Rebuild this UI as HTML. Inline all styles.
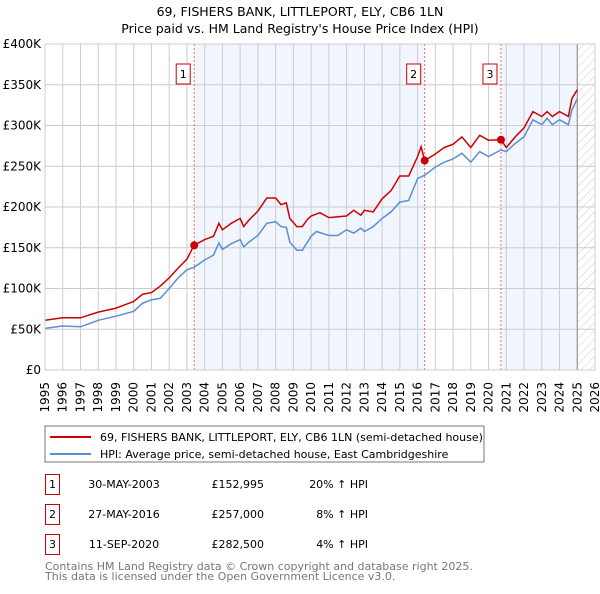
<!DOCTYPE html>
<html><head><meta charset="utf-8"><style>
body{margin:0;background:#fff;font-family:"DejaVu Sans","Liberation Sans",sans-serif;}
svg text{font-family:"DejaVu Sans","Liberation Sans",sans-serif;}
</style></head><body>
<svg id="chart" width="600" height="590" xmlns="http://www.w3.org/2000/svg">
<defs><pattern id="hatch" width="6" height="6" patternUnits="userSpaceOnUse" patternTransform="rotate(45)"><line x1="0" y1="0" x2="0" y2="6" stroke="#ccc" stroke-width="1"/></pattern></defs>
<text x="300" y="16" text-anchor="middle" font-size="12.5">69, FISHERS BANK, LITTLEPORT, ELY, CB6 1LN</text>
<text x="300" y="33" text-anchor="middle" font-size="12.5">Price paid vs. HM Land Registry's House Price Index (HPI)</text>
<g id="plot"></g>
<g>
<rect x="45" y="426" width="439" height="36" fill="#fff" stroke="#777" stroke-width="1"/>
<line x1="50" y1="437" x2="91" y2="437" stroke="#cc0000" stroke-width="2"/>
<text x="100" y="441" font-size="11">69, FISHERS BANK, LITTLEPORT, ELY, CB6 1LN (semi-detached house)</text>
<line x1="50" y1="454" x2="91" y2="454" stroke="#5b8fd4" stroke-width="2"/>
<text x="100" y="458" font-size="11">HPI: Average price, semi-detached house, East Cambridgeshire</text>
</g>
<g id="table" font-size="11"></g>
<text x="45" y="570" font-size="11" fill="#777">Contains HM Land Registry data © Crown copyright and database right 2025.</text>
<text x="45" y="580" font-size="11" fill="#777">This data is licensed under the Open Government Licence v3.0.</text>
</svg>
<script>
const yTicks=[0,50,100,150,200,250,300,350,400];
const yTickLabels=["£0","£50K","£100K","£150K","£200K","£250K","£300K","£350K","£400K"];
const xYears=[1995,1996,1997,1998,1999,2000,2001,2002,2003,2004,2005,2006,2007,2008,2009,2010,2011,2012,2013,2014,2015,2016,2017,2018,2019,2020,2021,2022,2023,2024,2025,2026];
const hpiDates=[1995,1996,1997,1998,1999,2000,2000.5,2001,2001.5,2002,2002.5,2003,2003.4,2004,2004.5,2004.8,2005,2005.5,2006,2006.2,2006.5,2007,2007.5,2008,2008.3,2008.6,2008.8,2009.2,2009.5,2010,2010.3,2011,2011.5,2012,2012.4,2012.8,2013,2013.5,2014,2014.5,2015,2015.5,2016,2016.4,2017,2017.5,2018,2018.5,2019,2019.5,2020,2020.7,2021,2021.5,2022,2022.5,2023,2023.3,2023.6,2024,2024.5,2024.7,2025.0];
const hpiValues=[51,54,53,61,66,72,82,86,88,100,113,123,126,135,141,156,148,155,160,151,157,165,180,182,176,175,157,147,147,164,170,165,165,172,168,174,170,176,186,194,206,208,235,239,249,255,259,266,255,268,262,270,268,278,286,307,301,309,301,307,301,319,333];
const priceDates=[1995,1996,1997,1998,1999,2000,2000.5,2001,2001.5,2002,2002.5,2003,2003.4,2004,2004.5,2004.8,2005,2005.5,2006,2006.2,2006.5,2007,2007.5,2008,2008.3,2008.6,2008.8,2009.2,2009.5,2009.8,2010,2010.5,2011,2012,2012.4,2012.8,2013,2013.5,2014,2014.5,2015,2015.5,2016,2016.2,2016.4,2017,2017.5,2018,2018.5,2019,2019.5,2020,2020.7,2021,2021.5,2022,2022.5,2023,2023.3,2023.6,2024,2024.5,2024.7,2025.0];
const priceValues=[61,64,64,71,76,84,93,95,103,113,125,136,153,160,164,180,172,180,186,176,184,195,211,211,203,205,186,176,176,185,189,193,187,189,196,190,196,194,210,220,238,238,262,274,257,265,273,277,286,273,288,282,282.5,273,286,297,317,311,317,311,317,311,333,344];
const saleDates=[2003.41,2016.40,2020.70];
const saleValues=[152.995,257,282.5];
const saleLabels=["1","2","3"];
const saleDateText=["30-MAY-2003","27-MAY-2016","11-SEP-2020"];
const salePriceText=["£152,995","£257,000","£282,500"];
const saleHpiText=["20% ↑ HPI","8% ↑ HPI","4% ↑ HPI"];

const NS="http://www.w3.org/2000/svg";
const X0=45,X1=595,Y0=370,Y1=44,xmin=1995,xmax=2026,ymax=400,dataEnd=2025.0;
const xs=v=>X0+(v-xmin)/(xmax-xmin)*(X1-X0);
const ys=v=>Y0-v/ymax*(Y0-Y1);
const plot=document.getElementById('plot');
function mk(tag,attrs,parent,txt){const e=document.createElementNS(NS,tag);for(const k in attrs)e.setAttribute(k,attrs[k]);if(txt!==undefined)e.textContent=txt;(parent||plot).appendChild(e);return e;}

let r;
r=mk('rect',{x:xs(saleDates[0]),y:Y1,width:xs(saleDates[1])-xs(saleDates[0]),height:Y0-Y1,fill:'#eef3fc',opacity:0.8});


r=mk('rect',{x:xs(saleDates[2]),y:Y1,width:xs(dataEnd)-xs(saleDates[2]),height:Y0-Y1,fill:'#eef3fc',opacity:0.8});


r=mk('rect',{x:xs(dataEnd),y:Y1,width:X1-xs(dataEnd),height:Y0-Y1,fill:'url(#hatch)'});



yTicks.forEach((t,i)=>{
  const l=mk('line',{x1:X0,x2:X1,y1:ys(t),y2:ys(t),stroke:'#ccc','stroke-width':1});
  
  
  const tx=mk('text',{x:X0-4,y:ys(t)+4,'text-anchor':'end','font-size':12},plot,yTickLabels[i]);
  
  
});
xYears.forEach(yr=>{
  const l=mk('line',{x1:xs(yr),x2:xs(yr),y1:Y1,y2:Y0,stroke:'#ccc','stroke-width':1});
  
  
  const tx=mk('text',{x:0,y:0,'text-anchor':'end','font-size':12,transform:`translate(${xs(yr)+4},${Y0+12}) rotate(-90)`},plot,String(yr));
  
  
});
r=mk('line',{x1:xs(dataEnd),x2:xs(dataEnd),y1:Y1,y2:Y0,stroke:'#888','stroke-width':1});



saleDates.forEach((d,i)=>{
  const l=mk('line',{x1:xs(d),x2:xs(d),y1:Y1,y2:Y0,stroke:'#e66','stroke-width':1,'stroke-dasharray':'2,2'});
  
  
  const b=mk('rect',{x:xs(d)-18,y:64,width:14,height:20,fill:'#fff',stroke:'#cc0000','stroke-width':1});
  
  
  const t=mk('text',{x:xs(d)-11,y:78,'text-anchor':'middle','font-size':11},plot,saleLabels[i]);
  
  
});

function path(dates,vals){return dates.map((d,i)=>(i?'L':'M')+xs(d).toFixed(1)+','+ys(vals[i]).toFixed(1)).join('');}
r=mk('path',{d:path(hpiDates,hpiValues),fill:'none',stroke:'#5b8fd4','stroke-width':1.5});


r=mk('path',{d:path(priceDates,priceValues),fill:'none',stroke:'#cc0000','stroke-width':1.5});


saleDates.forEach((d,i)=>{
  const c=mk('circle',{cx:xs(d),cy:ys(saleValues[i]),r:4,fill:'#cc0000'});
  
  
});
r=mk('rect',{x:X0,y:Y1,width:X1-X0,height:Y0-Y1,fill:'none',stroke:'#ccc','stroke-width':1});



const tbl=document.getElementById('table');
const rowY=[484,514,544];
saleLabels.forEach((s,i)=>{
  const y=rowY[i];
  let e=mk('rect',{x:45.5,y:y-9.5,width:14,height:20,fill:'#fff',stroke:'#cc0000','stroke-width':1},tbl);
  
  
  e=mk('text',{x:52.5,y:y+4,'text-anchor':'middle'},tbl,s);
  
  
  e=mk('text',{x:124,y:y+4,'text-anchor':'middle'},tbl,saleDateText[i]);
  
  
  e=mk('text',{x:264,y:y+4,'text-anchor':'end'},tbl,salePriceText[i]);
  
  
  e=mk('text',{x:368,y:y+4,'text-anchor':'end'},tbl,saleHpiText[i]);
  
  
});
</script>
</body></html>
